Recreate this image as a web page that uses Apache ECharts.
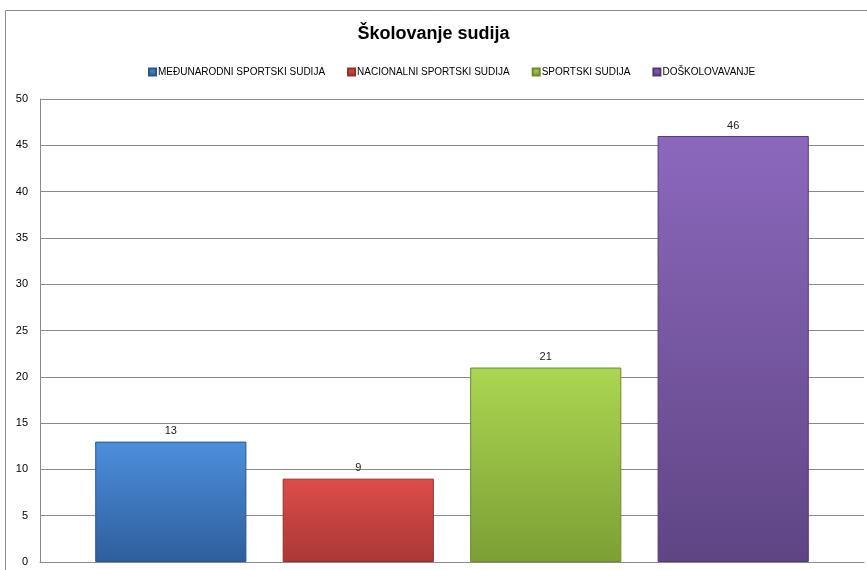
<!DOCTYPE html>
<html lang="sr">
<head>
<meta charset="utf-8">
<title>Školovanje sudija</title>
<script src="https://cdn.jsdelivr.net/npm/echarts@6/dist/echarts.min.js"></script>
<style>
  html, body { margin: 0; padding: 0; background: #fff; }
  #main { width: 867px; height: 570px; }
</style>
</head>
<body>
<div id="main"></div>
<script type="text/javascript">
  // data
  let seriesNames = ['MEĐUNARODNI SPORTSKI SUDIJA', 'NACIONALNI SPORTSKI SUDIJA', 'SPORTSKI SUDIJA', 'DOŠKOLOVAVANJE'];
  let seriesValues = [13, 9, 21, 46];
  let categories = ['Školovanje sudija'];

  // top / bottom gradient colours, border colour
  const colorTop = ['#4d8fdc', '#dd4d4a', '#abd652', '#8c68bd'];
  const colorBottom = ['#2f5e9c', '#a93835', '#7d9f35', '#5f4584'];
  const colorEdge = ['#2a5589', '#93302e', '#6c8a2d', '#523b72'];

  let seriesList = [];
  seriesNames.forEach((name, i) => {
    seriesList.push({
      name: name,
      type: 'bar',
      data: [seriesValues[i]],
      barGap: '24%',
      barCategoryGap: '13.4%',
      itemStyle: {
        color: new echarts.graphic.LinearGradient(0, 0, 0, 1, [
          { offset: 0, color: colorTop[i] },
          { offset: 1, color: colorBottom[i] }
        ]),
        borderColor: colorEdge[i],
        borderWidth: 1
      },
      label: {
        show: true,
        position: 'top',
        distance: 5,
        color: '#222',
        fontSize: 11,
        fontFamily: 'Liberation Sans'
      }
    });
  });

  let chart = echarts.init(document.getElementById('main'));

  let option = {
    animation: false,
    backgroundColor: '#fff',
    graphic: [{
      type: 'rect',
      shape: { x: 5.5, y: 10.5, width: 900, height: 600 },
      style: { fill: 'none', stroke: '#8a8a8a', lineWidth: 1 },
      silent: true
    }],
    title: {
      text: 'Školovanje sudija',
      left: 'center',
      top: 20,
      textStyle: { fontSize: 18, fontWeight: 'bold', color: '#000', fontFamily: 'Liberation Sans' }
    },
    legend: {
      data: seriesNames,
      top: 62,
      left: 143,
      itemWidth: 7,
      itemHeight: 7,
      itemGap: 22,
      icon: 'rect',
      textStyle: { fontSize: 10, color: '#000', fontFamily: 'Liberation Sans Narrow, Liberation Sans', padding: [0, 0, 0, -3] }
    },
    grid: { left: 40, right: 3, top: 99, bottom: 8, containLabel: false },
    xAxis: {
      type: 'category',
      data: categories,
      axisLine: { show: true, lineStyle: { color: '#8a8a8a' } },
      axisTick: { show: false },
      axisLabel: { show: false }
    },
    yAxis: {
      type: 'value',
      min: 0,
      max: 50,
      interval: 5,
      axisLine: { show: true, lineStyle: { color: '#8a8a8a' } },
      axisTick: { show: false },
      axisLabel: { color: '#000', fontSize: 11, fontFamily: 'Liberation Sans', margin: 12 },
      splitLine: { lineStyle: { color: '#8a8a8a', width: 1 } }
    },
    series: seriesList
  };

  chart.setOption(option);
</script>
</body>
</html>
